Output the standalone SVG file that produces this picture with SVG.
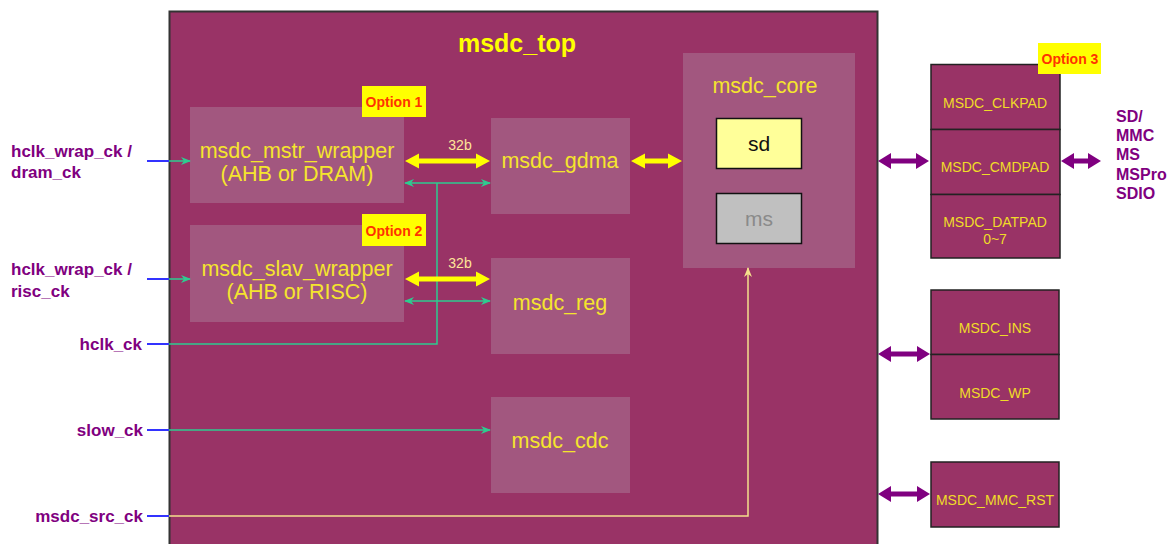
<svg xmlns="http://www.w3.org/2000/svg" width="1173" height="544" viewBox="0 0 1173 544">
<defs>
<style>
.blk{fill:#A2577F}
.lbl{font-family:"Liberation Sans",Arial,sans-serif;font-size:21.5px;fill:#F5E52D;text-anchor:middle}
.pad{fill:#993366;stroke:#222;stroke-width:1.5}
.padt{font-family:"Liberation Sans",Arial,sans-serif;font-size:14px;fill:#F0DC28;text-anchor:middle}
.sig{font-family:"Liberation Sans",Arial,sans-serif;font-size:17px;font-weight:bold;fill:#800080}
.opt{fill:#FFFF00}
.optt{font-family:"Liberation Sans",Arial,sans-serif;font-size:14px;font-weight:bold;fill:#FF3300;text-anchor:middle}
.w32{font-family:"Liberation Sans",Arial,sans-serif;font-size:14px;fill:#FFE699;text-anchor:middle}
.blue{stroke:#3333FF;stroke-width:2;fill:none}
.cy{stroke:#2ECC90;stroke-width:1.5;fill:none}
.ya{fill:#FFFF00}
.pa{fill:#800080}
</style>
<marker id="ca" viewBox="0 0 10 8" refX="9" refY="4" markerWidth="10" markerHeight="8" markerUnits="userSpaceOnUse" orient="auto-start-reverse">
<path d="M0,0 L10,4 L0,8 L3,4 z" fill="#2ECC90"/>
</marker>
<marker id="sa" viewBox="0 0 10 8" refX="9" refY="4" markerWidth="10" markerHeight="8" markerUnits="userSpaceOnUse" orient="auto">
<path d="M0,0 L10,4 L0,8 L3,4 z" fill="#F5E08C"/>
</marker>
</defs>
<rect width="1173" height="544" fill="#FFFFFF"/>

<g id="msdc_top">
<rect x="169.5" y="11.5" width="708" height="545" fill="#993366" stroke="#333" stroke-width="2"/>
<text x="517" y="52" style="font-family:'Liberation Sans',Arial,sans-serif;font-size:25px;font-weight:bold;fill:#FFFF00" text-anchor="middle">msdc_top</text>
</g>

<g id="mstr_wrapper">
<rect class="blk" x="190" y="107" width="214" height="96"/>
<text class="lbl" x="297" y="158">msdc_mstr_wrapper</text>
<text class="lbl" x="297" y="181">(AHB or DRAM)</text>
</g>
<g id="option1">
<rect class="opt" x="362" y="86" width="64" height="31"/>
<text class="optt" x="394" y="107">Option 1</text>
</g>

<g id="slav_wrapper">
<rect class="blk" x="190" y="225" width="214" height="97"/>
<text class="lbl" x="297" y="276">msdc_slav_wrapper</text>
<text class="lbl" x="297" y="299">(AHB or RISC)</text>
</g>
<g id="option2">
<rect class="opt" x="362" y="214" width="64" height="32"/>
<text class="optt" x="394" y="236">Option 2</text>
</g>

<g id="msdc_gdma">
<rect class="blk" x="491" y="118" width="139" height="96"/>
<text class="lbl" x="560" y="168">msdc_gdma</text>
</g>
<g id="msdc_reg">
<rect class="blk" x="491" y="258" width="139" height="96"/>
<text class="lbl" x="560" y="310">msdc_reg</text>
</g>
<g id="msdc_cdc">
<rect class="blk" x="491" y="397" width="139" height="96"/>
<text class="lbl" x="560" y="448">msdc_cdc</text>
</g>

<g id="msdc_core">
<rect class="blk" x="683" y="53" width="172" height="215"/>
<text class="lbl" x="765" y="93">msdc_core</text>
</g>
<g id="sd">
<rect x="716.5" y="118.5" width="85" height="50" fill="#FFFF99" stroke="#111" stroke-width="1.5"/>
<text x="759" y="151" style="font-family:'Liberation Sans',Arial,sans-serif;font-size:21px;fill:#111" text-anchor="middle">sd</text>
</g>
<g id="ms">
<rect x="716.5" y="193.5" width="85" height="50" fill="#C0C0C0" stroke="#111" stroke-width="1.5"/>
<text x="759" y="226" style="font-family:'Liberation Sans',Arial,sans-serif;font-size:21px;fill:#8A8A8A" text-anchor="middle">ms</text>
</g>

<g id="pads_sd">
<rect class="pad" x="931" y="64.5" width="129" height="65"/>
<rect class="pad" x="931" y="129.5" width="129" height="65"/>
<rect class="pad" x="931" y="194.5" width="129" height="63.5"/>
<text class="padt" x="995" y="108">MSDC_CLKPAD</text>
<text class="padt" x="995" y="172">MSDC_CMDPAD</text>
<text class="padt" x="995" y="227">MSDC_DATPAD</text>
<text class="padt" x="995" y="244">0~7</text>
</g>
<g id="option3">
<rect class="opt" x="1038" y="43" width="63" height="31"/>
<text class="optt" x="1070" y="64">Option 3</text>
</g>
<g id="pads_ins">
<rect class="pad" x="931" y="290" width="128" height="64.5"/>
<rect class="pad" x="931" y="354.5" width="128" height="64.5"/>
<text class="padt" x="995" y="333">MSDC_INS</text>
<text class="padt" x="995" y="398">MSDC_WP</text>
</g>
<g id="pad_rst">
<rect class="pad" x="931" y="462" width="128" height="65"/>
<text class="padt" x="995" y="505">MSDC_MMC_RST</text>
</g>

<g id="signals">
<text class="sig" x="11" y="157">hclk_wrap_ck /</text>
<text class="sig" x="11" y="178">dram_ck</text>
<text class="sig" x="11" y="275">hclk_wrap_ck /</text>
<text class="sig" x="11" y="297">risc_ck</text>
<text class="sig" x="142" y="350" text-anchor="end">hclk_ck</text>
<text class="sig" x="143" y="436" text-anchor="end">slow_ck</text>
<text class="sig" x="143" y="522" text-anchor="end">msdc_src_ck</text>
<text style="font-family:'Liberation Sans',Arial,sans-serif;font-size:16px;font-weight:bold;fill:#800080" x="1116">
<tspan x="1116" y="122">SD/</tspan><tspan x="1116" y="141">MMC</tspan><tspan x="1116" y="160">MS</tspan><tspan x="1116" y="180">MSPro</tspan><tspan x="1116" y="199">SDIO</tspan>
</text>
</g>

<g id="connectors">
<path class="blue" d="M147,161H169M147,279H169M147,344H169M147,430H169M147,516H169"/>
<path class="cy" d="M169,161H190" marker-end="url(#ca)"/>
<path class="cy" d="M169,279H190" marker-end="url(#ca)"/>
<path class="cy" d="M169,344H437V183"/>
<path class="cy" d="M405,183H490" marker-start="url(#ca)" marker-end="url(#ca)"/>
<path class="cy" d="M405,301H490" marker-start="url(#ca)" marker-end="url(#ca)"/>
<path class="cy" d="M169,430H490" marker-end="url(#ca)"/>
<path d="M169,516H748V268" fill="none" stroke="#F5E08C" stroke-width="1.5" marker-end="url(#sa)"/>
<polygon class="ya" points="405,161 419,153.5 419,158.5 476,158.5 476,153.5 490,161 476,168.5 476,163.5 419,163.5 419,168.5"/>
<polygon class="ya" points="405,279 419,271.5 419,276.5 476,276.5 476,271.5 490,279 476,286.5 476,281.5 419,281.5 419,286.5"/>
<polygon class="ya" points="631,161 645,153.5 645,158.5 668,158.5 668,153.5 682,161 668,168.5 668,163.5 645,163.5 645,168.5"/>
<text class="w32" x="460" y="150">32b</text>
<text class="w32" x="460" y="268">32b</text>
<polygon class="pa" points="878,161 891,153 891,158.5 916,158.5 916,153 929,161 916,169 916,163.5 891,163.5 891,169"/>
<polygon class="pa" points="1061,161 1074,153 1074,158.5 1088,158.5 1088,153 1101,161 1088,169 1088,163.5 1074,163.5 1074,169"/>
<polygon class="pa" points="878,354 891,346 891,351.5 917,351.5 917,346 930,354 917,362 917,356.5 891,356.5 891,362"/>
<polygon class="pa" points="878,494 891,486 891,491.5 917,491.5 917,486 930,494 917,502 917,496.5 891,496.5 891,502"/>
</g>
</svg>
